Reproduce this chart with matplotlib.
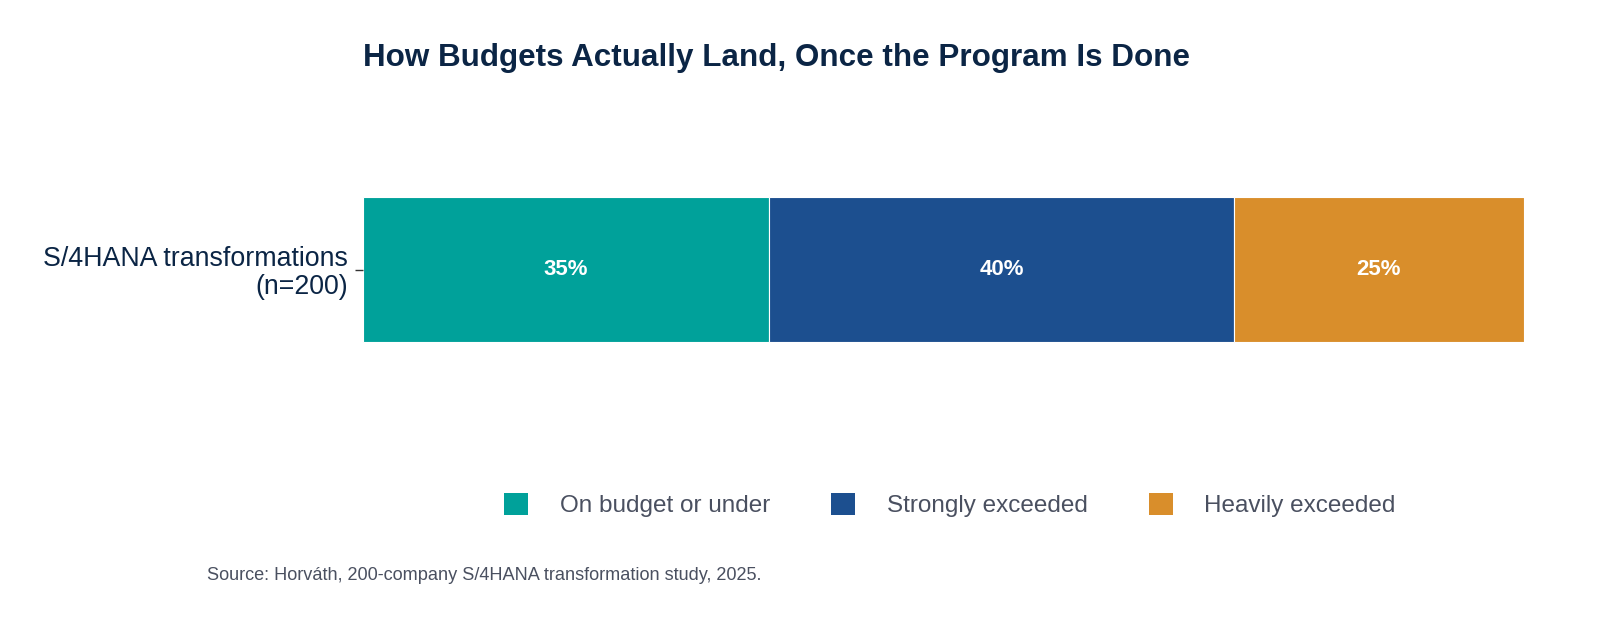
import matplotlib
matplotlib.use("Agg")
import matplotlib.pyplot as plt
from matplotlib.patches import Patch

plt.rcParams['font.family'] = ['Liberation Sans', 'DejaVu Sans']

categories = ["S/4HANA transformations\n(n=200)"]
series_names = ["On budget or under", "Strongly exceeded", "Heavily exceeded"]
series_values = [[35], [40], [25]]
colors = ["#00A19A", "#1C4F8F", "#D98E2B"]
title = "How Budgets Actually Land, Once the Program Is Done"
source = "Source: Horváth, 200-company S/4HANA transformation study, 2025."

fig = plt.figure(figsize=(16, 6.4), dpi=100)
ax = fig.add_axes([363/1600, 1-419/640, (1524-363)/1600, 299/640])

left = [0]*len(categories)
for name, vals, c in zip(series_names, series_values, colors):
    bars = ax.barh(categories, vals, left=left, height=0.485, color=c,
                   edgecolor="white", linewidth=0.8, label=name)
    for b, v in zip(bars, vals):
        ax.text(b.get_x()+b.get_width()/2, b.get_y()+b.get_height()/2, f"{v}%",
                ha="center", va="center", color="white", fontsize=16, fontweight="bold")
    left = [l+v for l, v in zip(left, vals)]

ax.set_xlim(0, 100)
ax.set_ylim(-0.5, 0.5)
for s in ax.spines.values():
    s.set_visible(False)
ax.set_xticks([])
ax.tick_params(axis='y', length=6, width=1, color="#333333", labelsize=19.3, labelcolor="#0B2545", pad=5)
for lbl in ax.get_yticklabels():
    lbl.set_linespacing(1.1)

fig.text(363/1600, 1-58/640, title, ha="left", va="center", fontsize=22.6,
         fontweight="bold", color="#0B2545")

handles = [Patch(facecolor=c, edgecolor="none") for c in colors]
fig.legend(handles, series_names, loc="center", bbox_to_anchor=(950/1600, 1-505/640),
           ncol=3, frameon=False, fontsize=17.5, labelcolor="#4A5060",
           handlelength=1.0, handleheight=1.0, handletextpad=1.3, columnspacing=2.5)

fig.text(207/1600, 1-575/640, source, ha="left", va="center", fontsize=13.1, color="#4A5060")

fig.savefig("out.png", dpi=100, facecolor="white")
